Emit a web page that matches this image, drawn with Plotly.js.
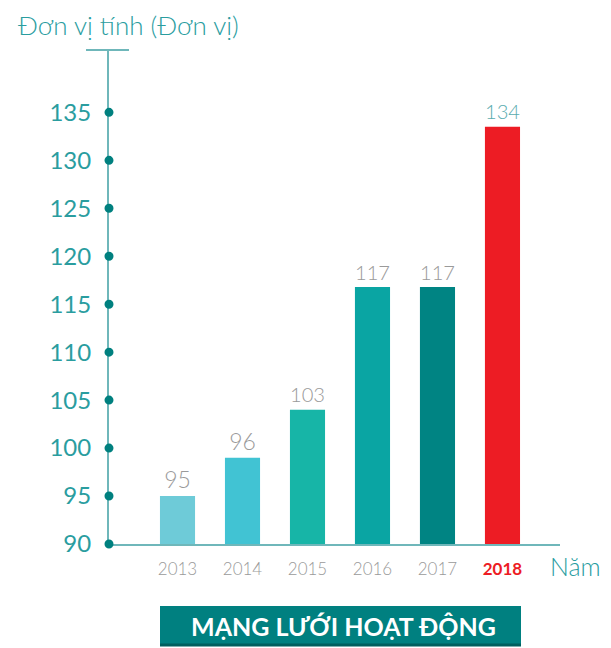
<!DOCTYPE html>
<html>
<head>
<meta charset="utf-8">
<script src="https://cdn.plot.ly/plotly-3.0.1.min.js"></script>
<style>
  html, body { margin: 0; padding: 0; background: #fff; }
  #chart { width: 611px; height: 648px; }
</style>
</head>
<body>
<div id="chart"></div>
<script>
  // Data
  const years = ['2013', '2014', '2015', '2016', '2017', '2018'];
  const barHeights = [95, 99, 104, 116.8, 116.8, 133.5];
  const valueLabels = ['95', '96', '103', '117', '117', '134'];
  const barColors = ['#6ecbd8', '#41c3d3', '#17b5a7', '#0aa5a3', '#008483', '#ed1c24'];
  const labelColors = ['#9a9a9a', '#9a9a9a', '#9a9a9a', '#9a9a9a', '#9a9a9a', '#5aacaf'];
  const yTicks = [90, 95, 100, 105, 110, 115, 120, 125, 130, 135];

  const TEAL = '#2a9d9f';
  const xIdx = years.map((_, i) => i);
  const xRange = [-1.054, 5.885];
  const yRange = [90, 141.5];

  // pixel helpers for decorations outside the plot area
  const plotL = 109, plotW = 451, plotB = 544, plotH = 494;
  const px = x => (x - plotL) / plotW;
  const py = y => (plotB - y) / plotH;
  const yPaper = v => (v - yRange[0]) / (yRange[1] - yRange[0]);

  const bars = {
    type: 'bar',
    x: xIdx,
    y: barHeights,
    width: 0.54,
    marker: { color: barColors },
    text: valueLabels,
    textposition: 'outside',
    textfont: { family: 'Lato, sans-serif', size: 23, weight: 300, color: labelColors },
    cliponaxis: false,
    hoverinfo: 'skip'
  };

  // round tick marks on the value axis (paper refs so they are not clipped)
  const dotShapes = yTicks.map(v => ({
    type: 'circle', layer: 'above',
    xref: 'paper', xsizemode: 'pixel', xanchor: 0, x0: -4.5, x1: 4.5,
    yref: 'paper', ysizemode: 'pixel', yanchor: yPaper(v), y0: -4.5, y1: 4.5,
    fillcolor: '#00807f', line: { width: 0 }
  }));

  const tickText = years.map(y => y === '2018'
    ? '<b><span style="color:#ed1c24">' + y + '</span></b>'
    : y);

  const layout = {
    width: 611,
    height: 648,
    margin: { l: 109, r: 51, t: 50, b: 104 },
    paper_bgcolor: '#fff',
    plot_bgcolor: '#fff',
    showlegend: false,
    font: { family: 'Lato, sans-serif' },
    xaxis: {
      range: xRange,
      tickvals: xIdx,
      ticktext: tickText,
      tickfont: { size: 17, weight: 300, color: '#9a9a9a' },
      showgrid: false,
      zeroline: false,
      showline: true,
      linecolor: '#6fb7ba',
      linewidth: 2,
      ticks: '',
      ticklabelstandoff: 9
    },
    yaxis: {
      range: yRange,
      tickvals: yTicks,
      tickfont: { size: 24, weight: 400, color: TEAL },
      showgrid: false,
      zeroline: false,
      showline: true,
      linecolor: '#6fb7ba',
      linewidth: 2,
      ticks: '',
      ticklabelstandoff: 11
    },
    shapes: [
      // cap at the top of the value axis
      { type: 'line', xref: 'paper', yref: 'paper', x0: px(86), x1: px(129), y0: 1, y1: 1,
        line: { color: '#6fb7ba', width: 2 } },
      // banner
      { type: 'rect', xref: 'paper', yref: 'paper', x0: px(160), x1: px(521), y0: py(646), y1: py(606),
        fillcolor: '#008080', line: { width: 0 } },
      { type: 'line', xref: 'paper', yref: 'paper', x0: px(160), x1: px(521), y0: py(645), y1: py(645),
        line: { color: '#005f5e', width: 3 } }
    ].concat(dotShapes),
    annotations: [
      { xref: 'paper', yref: 'paper', x: px(16), y: py(25), xanchor: 'left', yanchor: 'middle',
        text: 'Đơn vị tính (Đơn vị)', showarrow: false, font: { size: 26, weight: 300, color: TEAL } },
      { xref: 'paper', yref: 'paper', x: px(548), y: py(566), xanchor: 'left', yanchor: 'middle',
        text: 'Năm', showarrow: false, font: { size: 25, weight: 300, color: TEAL } },
      { xref: 'paper', yref: 'paper', x: px(343), y: py(626), xanchor: 'center', yanchor: 'middle',
        text: '<b>MẠNG LƯỚI HOẠT ĐỘNG</b>', showarrow: false, font: { size: 25, color: '#fff' } }
    ]
  };

  Plotly.newPlot('chart', [bars], layout, { displayModeBar: false, staticPlot: true });
</script>
</body>
</html>
